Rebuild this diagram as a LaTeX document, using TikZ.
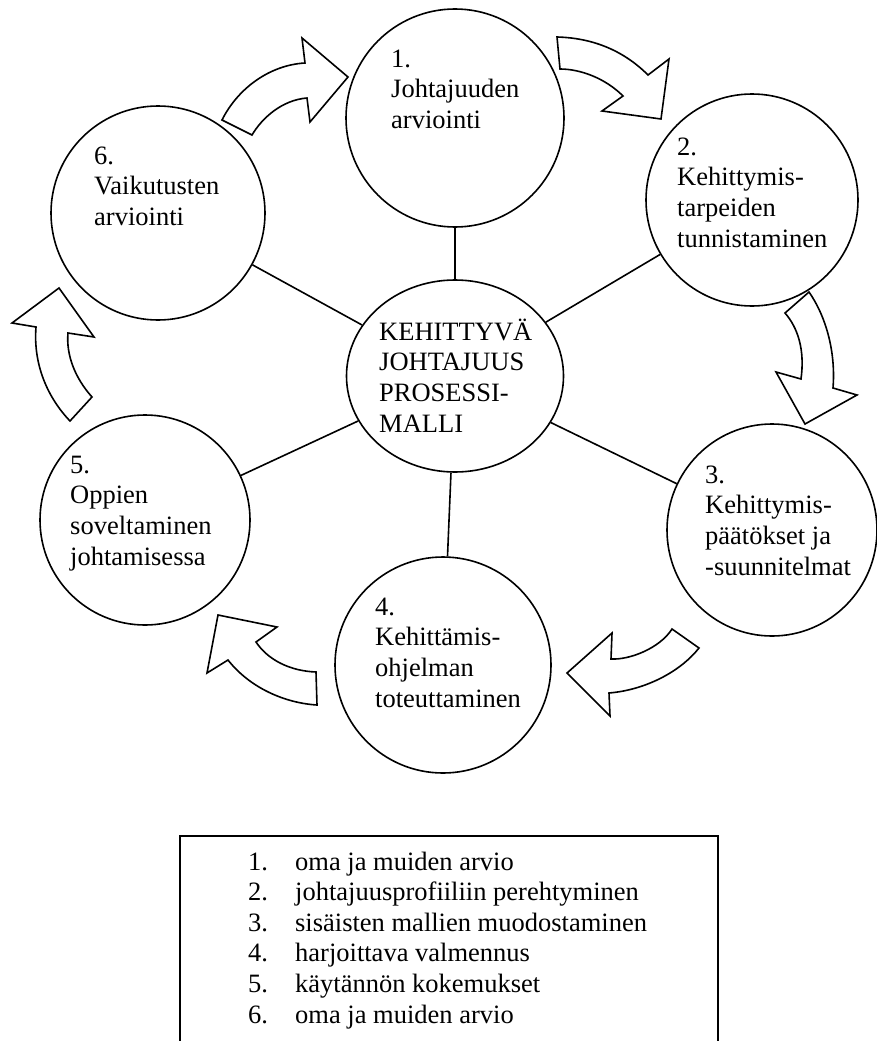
\documentclass[tikz,border=0pt]{standalone}
\usepackage{fontspec}
\setmainfont{Liberation Serif}
\usetikzlibrary{shapes.geometric}
\begin{document}
\begin{tikzpicture}[x=1pt,y=-1pt,
  stage/.style={ellipse, draw, line width=1.6pt, inner sep=0pt, fill=white},
  link/.style={line width=1.6pt},
  turn/.style={draw, line width=1.6pt, line join=miter, fill=white},
  caption/.style={font=\fontsize{26.5}{30.8}\selectfont, align=left, inner sep=0pt, anchor=base west},
  legendtext/.style={font=\fontsize{26.5}{30.6}\selectfont, align=left, inner sep=0pt, anchor=base west},
  frame/.style={draw, line width=1.6pt, inner sep=0pt, anchor=north west}]
\useasboundingbox (0,0) rectangle (877,1041);
\clip (0,0) rectangle (877,1041);

% phases of the process
\node[stage, minimum width=218pt, minimum height=218pt] (c1) at (455,118) {};
\node[stage, minimum width=212pt, minimum height=212pt] (c2) at (752,200) {};
\node[stage, minimum width=210pt, minimum height=212pt] (c3) at (772,530) {};
\node[stage, minimum width=216pt, minimum height=216pt] (c4) at (443,665) {};
\node[stage, minimum width=210pt, minimum height=210pt] (c5) at (145,520) {};
\node[stage, minimum width=214pt, minimum height=214pt] (c6) at (158,213) {};
\node[stage, minimum width=217pt, minimum height=192pt] (cc) at (455,376) {};

% spokes from the hub
\draw[link] (cc) -- (c1);
\draw[link] (cc) -- (c2);
\draw[link] (cc) -- (c3);
\draw[link] (cc) -- (c4);
\draw[link] (cc) -- (c5);
\draw[link] (cc) -- (c6);

% texts in the circles (anchored at the baseline of the last line)
\node[caption] (t1) at (391,128.6) {1.\\Johtajuuden\\arviointi};
\node[caption] (t2) at (677,247.4) {2.\\Kehittymis-\\tarpeiden\\tunnistaminen};
\node[caption] (t3) at (705,575.4) {3.\\Kehittymis-\\päätökset ja\\-suunnitelmat};
\node[caption] (t4) at (375,707.4) {4.\\Kehittämis-\\ohjelman\\toteuttaminen};
\node[caption] (t5) at (70,565.4)  {5.\\Oppien\\soveltaminen\\johtamisessa};
\node[caption] (t6) at (94,225.6)  {6.\\Vaikutusten\\arviointi};
\node[caption] (tc) at (379,432.4) {KEHITTYVÄ\\JOHTAJUUS\\PROSESSI-\\MALLI};

% curved block arrows between the phases
\draw[turn] (222,120) -- (252,135) .. controls (262,118) and (282,100) .. (307,98)
  -- (310,122) -- (348,77) -- (302,38) -- (305,63)
  .. controls (270,65) and (238,88) .. (222,120) -- cycle;
\draw[turn] (557,37) .. controls (595,38) and (625,52) .. (648,75)
  -- (669,59) -- (661,119) -- (602,111) -- (623,96)
  .. controls (605,78) and (580,69) .. (560,69) -- cycle;
\draw[turn] (809,292) .. controls (825,315) and (836,350) .. (833,388)
  -- (857,395) -- (805,424) -- (776,372) -- (801,379)
  .. controls (805,350) and (798,328) .. (785,313) -- cycle;
\draw[turn] (699,648) .. controls (680,672) and (645,690) .. (609,693)
  -- (610,716) -- (567,673) -- (612,633) -- (611,659)
  .. controls (630,660) and (660,648) .. (672,629) -- cycle;
\draw[turn] (317,705) .. controls (285,703) and (250,688) .. (228,660)
  -- (207,673) -- (218,615) -- (277,627) -- (256,642)
  .. controls (268,660) and (290,671) .. (316,672) -- cycle;
\draw[turn] (92,397) .. controls (75,378) and (66,355) .. (68,333)
  -- (94,337) -- (59,288) -- (12,323) -- (36,327)
  .. controls (33,365) and (48,398) .. (70,421) -- cycle;

% legend
\node[frame, minimum width=538pt, minimum height=240pt] (legend) at (179,835) {};
\node[legendtext] (legendlist) at (248,1023) {%
  \makebox[47pt][l]{1.}oma ja muiden arvio\\
  \makebox[47pt][l]{2.}johtajuusprofiiliin perehtyminen\\
  \makebox[47pt][l]{3.}sisäisten mallien muodostaminen\\
  \makebox[47pt][l]{4.}harjoittava valmennus\\
  \makebox[47pt][l]{5.}käytännön kokemukset\\
  \makebox[47pt][l]{6.}oma ja muiden arvio};
\end{tikzpicture}
\end{document}
